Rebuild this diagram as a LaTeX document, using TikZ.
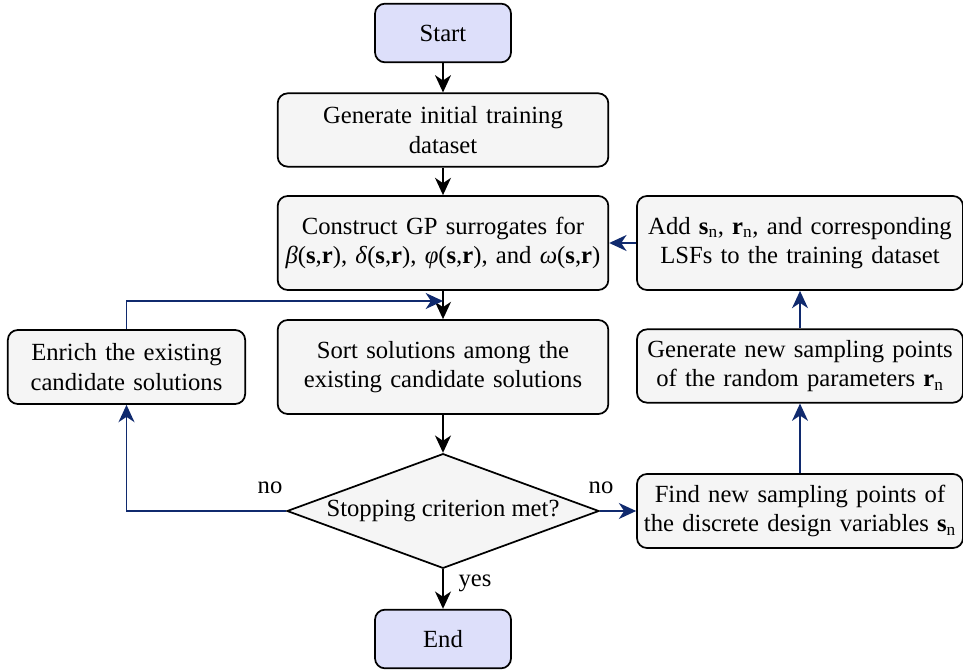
\documentclass[tikz,border=0pt]{standalone}
\usepackage{fontspec}
\setmainfont{Liberation Serif}
\usetikzlibrary{shapes.geometric,arrows.meta}
\definecolor{boxfill}{RGB}{245,245,245}
\definecolor{termfill}{RGB}{221,223,250}
\definecolor{navy}{RGB}{16,42,110}
\begin{document}
\begin{tikzpicture}[x=0.75pt,y=-0.75pt,
  txt/.style={font=\fontsize{18.5}{22}\selectfont},
  base/.style={txt, draw=black, line width=1.3pt, rounded corners=7.5pt, align=center, inner xsep=0pt, inner ysep=0pt},
  proc/.style={base, fill=boxfill},
  term/.style={base, fill=termfill, minimum width=102pt, minimum height=44pt},
  dec/.style={txt, diamond, draw=black, line width=1.3pt, fill=boxfill, aspect=2.7, inner sep=0pt, minimum width=234pt, minimum height=86pt},
  arr/.style={-{Stealth[length=13pt,width=12pt,inset=4pt]}, line width=1.2pt},
  narr/.style={arr, draw=navy},
  lab/.style={txt, inner sep=0pt}]
\useasboundingbox (0,0) rectangle (963,670);
\node[term] (start) at (443,33) {Start};
\node[proc, text width=248pt, minimum height=55pt] (gen) at (443,130) {Generate initial training\\dataset};
\node[proc, text width=248pt, minimum height=70.5pt] (gp) at (443,243) {Construct GP surrogates for\\\textit{β}(\textbf{s},\textbf{r}), \textit{δ}(\textbf{s},\textbf{r}), \textit{φ}(\textbf{s},\textbf{r}), and \textit{ω}(\textbf{s},\textbf{r})};
\node[proc, text width=248pt, minimum height=70.5pt] (sort) at (443,367) {Sort solutions among the\\existing candidate solutions};
\node[dec] (stop) at (443,511) {Stopping criterion met?};
\node[term] (end) at (443,639) {End};
\node[proc, text width=178pt, minimum height=55.5pt] (enrich) at (126.5,367) {Enrich the existing\\candidate solutions};
\node[proc, text width=244.5pt, minimum height=70.5pt] (add) at (800,243) {Add \textbf{s}\textsubscript{n}, \textbf{r}\textsubscript{n}, and corresponding\\LSFs to the training dataset};
\node[proc, text width=244.5pt, minimum height=55pt] (gennew) at (800,366) {Generate new sampling points\\of the random parameters \textbf{r}\textsubscript{n}};
\node[proc, text width=244.5pt, minimum height=55.5pt] (find) at (800,511) {Find new sampling points of\\the discrete design variables \textbf{s}\textsubscript{n}};
\coordinate (join) at (443,301);
\draw[arr] (start) -- (gen);
\draw[arr] (gen) -- (gp);
\draw[arr] (gp) -- (sort);
\draw[arr] (sort) -- (stop);
\draw[arr] (stop) -- (end);
\draw[narr] (enrich.north) |- (join);
\draw[narr] (stop.west) -| (enrich.south);
\draw[narr] (stop.east) -- (find.west);
\draw[narr] (find) -- (gennew);
\draw[narr] (gennew) -- (add);
\draw[narr] (add) -- (gp);
\node[lab] (nol) at (270,488) {no};
\node[lab] (nor) at (601,488) {no};
\node[lab] (yes) at (475,583) {yes};
\end{tikzpicture}
\end{document}
